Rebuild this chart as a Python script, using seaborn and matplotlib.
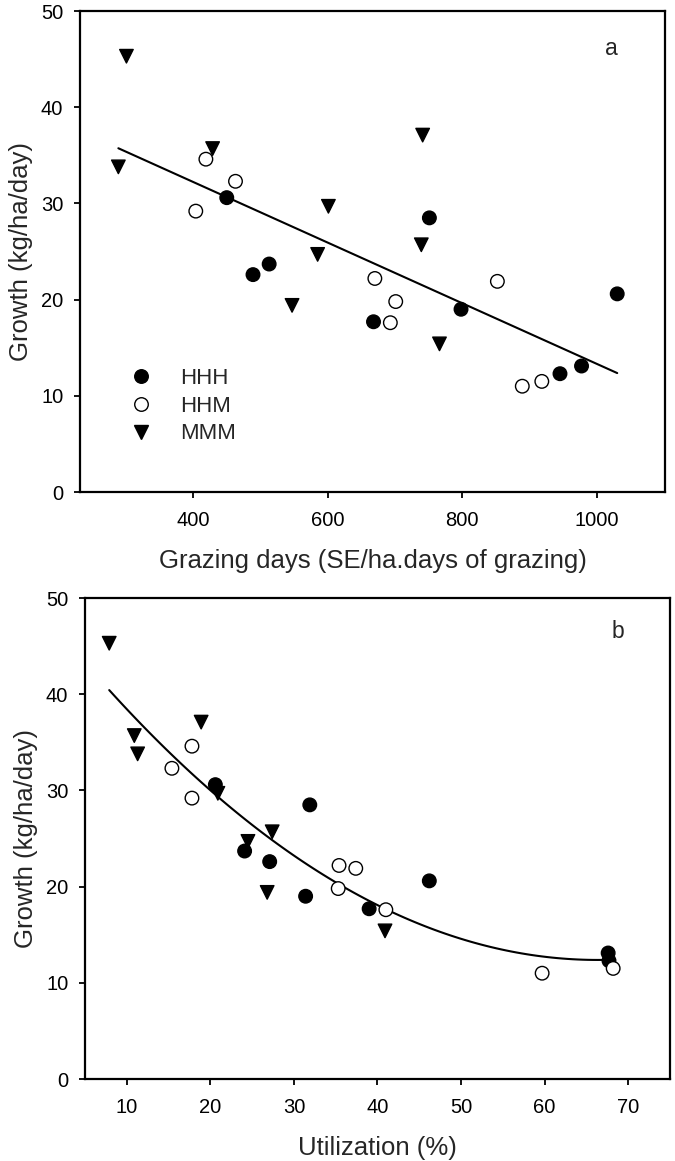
import pandas as pd
import matplotlib
matplotlib.use("Agg")
import matplotlib.pyplot as plt
import seaborn as sns

# values, one entry per paddock/year
treatment = ["HHH"] * 9 + ["HHM"] * 9 + ["MMM"] * 9
growth = [30.6, 23.7, 22.6, 17.7, 28.5, 19.0, 20.6, 13.1, 12.3,
          34.6, 32.3, 29.2, 22.2, 21.9, 19.8, 17.6, 11.5, 11.0,
          45.3, 33.8, 35.7, 29.7, 24.7, 19.4, 37.1, 25.7, 15.4]
grazing_days = [450, 513, 489, 668, 751, 798, 1030, 977, 945,
                419, 463, 404, 670, 852, 701, 693, 918, 889,
                301, 289, 429, 601, 585, 547, 741, 739, 766]
utilization = [20.6, 24.1, 27.1, 39.0, 31.9, 31.4, 46.2, 67.6, 67.7,
               17.8, 15.4, 17.8, 35.4, 37.4, 35.3, 41.0, 68.2, 59.7,
               7.9, 11.3, 10.9, 20.9, 24.5, 26.8, 18.9, 27.4, 40.9]

x_ticks_a = [400, 600, 800, 1000]
x_ticks_b = [10, 20, 30, 40, 50, 60, 70]
y_ticks = [0, 10, 20, 30, 40, 50]

df = pd.DataFrame({"treatment": treatment, "growth": growth,
                   "grazing": grazing_days, "util": utilization})

sns.set_style("ticks")
plt.rcParams["font.family"] = ["Liberation Sans", "DejaVu Sans"]

palette = {"HHH": "black", "HHM": "white", "MMM": "black"}
markers = {"HHH": "o", "HHM": "o", "MMM": "v"}


def style_axes(ax, xticks, xlim):
    ax.set_xlim(*xlim)
    ax.set_ylim(0, 50)
    ax.set_xticks(xticks)
    ax.set_yticks(y_ticks)
    for sp in ax.spines.values():
        sp.set_visible(True)
        sp.set_linewidth(1.6)
        sp.set_color("black")
    ax.tick_params(axis="both", direction="out", length=4, width=1.3,
                   labelsize=14.5, pad=8, colors="black",
                   top=False, right=False)
    ax.tick_params(axis="x", pad=10)
    ax.set_ylabel("Growth (kg/ha/day)", fontsize=18.5, labelpad=6)


fig = plt.figure(figsize=(6.75, 11.61), dpi=100)
ax_a = fig.add_axes([0.1185, 0.5762, 0.8667, 0.4143])
ax_b = fig.add_axes([0.1259, 0.0706, 0.8667, 0.4143])

# panel a: growth vs grazing days, linear fit
sns.regplot(data=df, x="grazing", y="growth", scatter=False, ci=None,
            color="black", line_kws={"lw": 1.5}, ax=ax_a)
sns.scatterplot(data=df, x="grazing", y="growth", hue="treatment",
                style="treatment", palette=palette, markers=markers,
                s=95, edgecolor="black", linewidth=1.0, ax=ax_a, zorder=3)
style_axes(ax_a, x_ticks_a, (232, 1101))
ax_a.set_xlabel("Grazing days (SE/ha.days of grazing)", fontsize=18.5,
                labelpad=13)
ax_a.text(0.909, 0.922, "a", transform=ax_a.transAxes, fontsize=16.5,
          ha="center", va="center")
handles, labels = ax_a.get_legend_handles_labels()
ax_a.legend(handles, labels, loc="upper left", bbox_to_anchor=(0.04, 0.29),
            frameon=False, fontsize=16, handletextpad=0.75,
            labelspacing=0.3, borderpad=0.2)

# panel b: growth vs utilization, quadratic fit
sns.regplot(data=df, x="util", y="growth", scatter=False, ci=None,
            order=2, color="black", line_kws={"lw": 1.5}, ax=ax_b)
sns.scatterplot(data=df, x="util", y="growth", hue="treatment",
                style="treatment", palette=palette, markers=markers,
                s=95, edgecolor="black", linewidth=1.0, ax=ax_b, zorder=3,
                legend=False)
style_axes(ax_b, x_ticks_b, (5, 75))
ax_b.set_xlabel("Utilization (%)", fontsize=18.5, labelpad=13)
ax_b.text(0.911, 0.930, "b", transform=ax_b.transAxes, fontsize=16.5,
          ha="center", va="center")

fig.savefig("out.png", dpi=100)
